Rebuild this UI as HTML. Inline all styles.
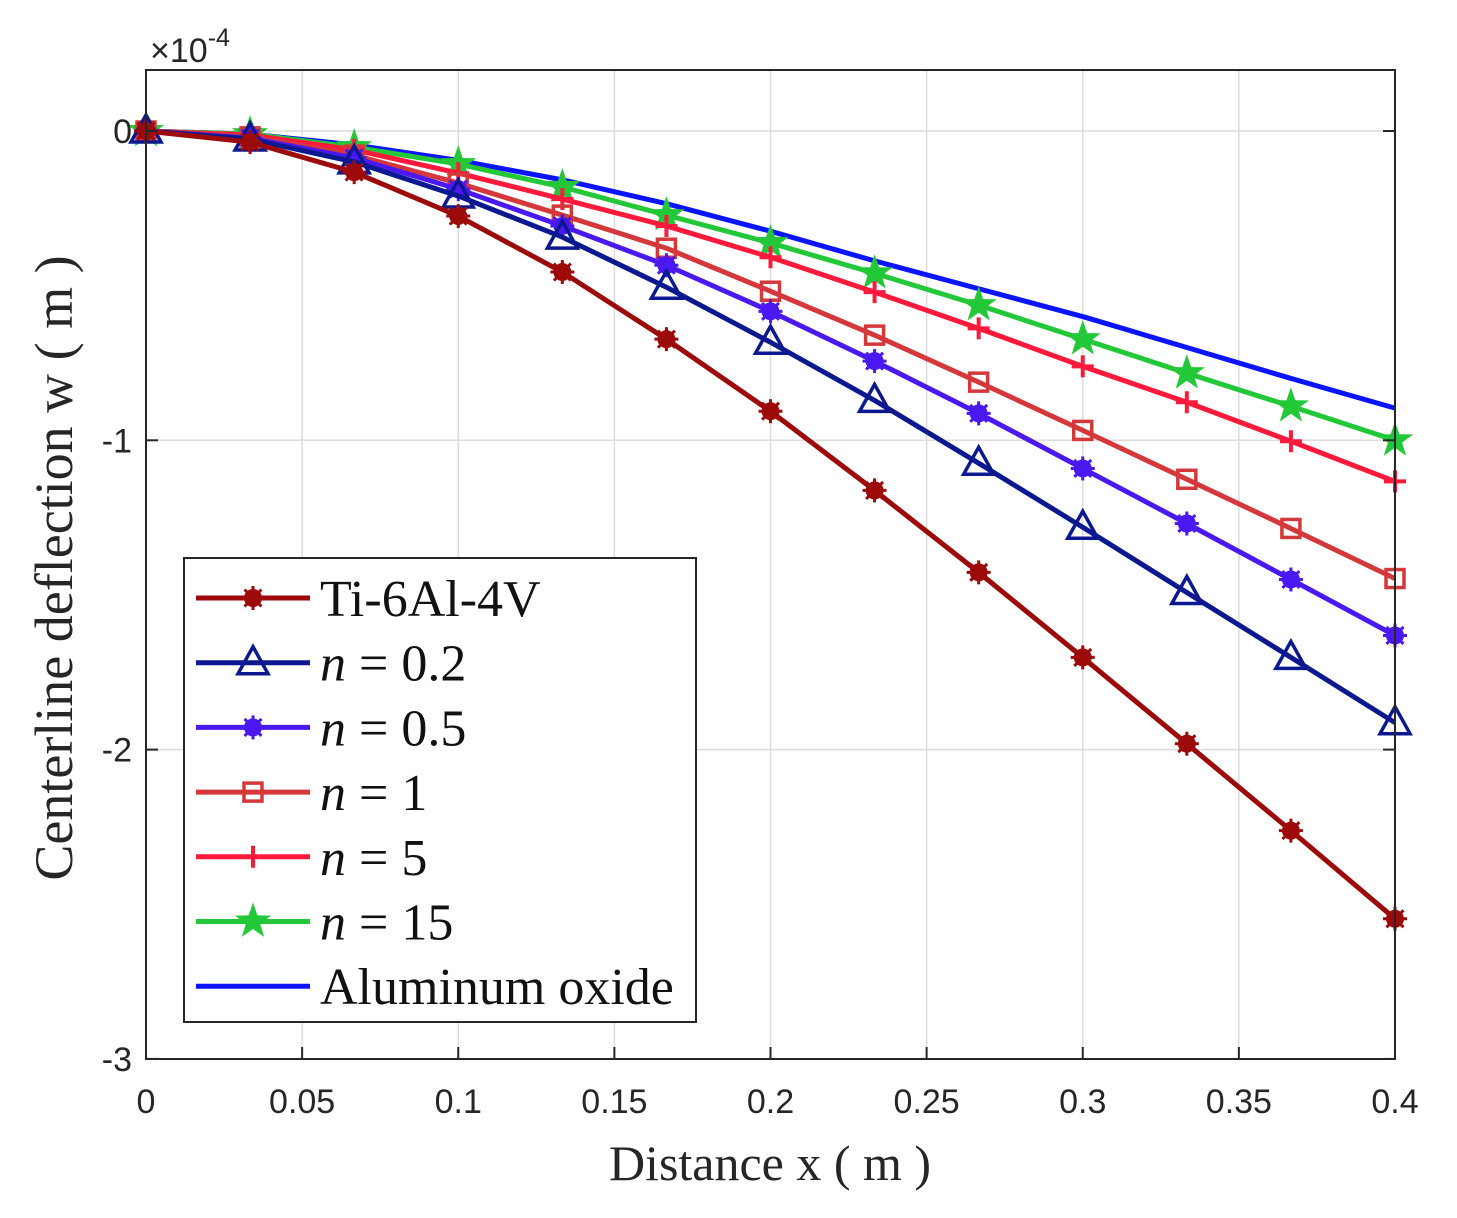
<!DOCTYPE html>
<html><head><meta charset="utf-8"><style>
body{margin:0;background:#fff}
svg text{font-family:"Liberation Sans",sans-serif}
.serif{font-family:"Liberation Serif",serif}
</style></head><body>
<svg id="chart" width="1457" height="1213" viewBox="0 0 1457 1213" xmlns="http://www.w3.org/2000/svg">
<rect width="1457" height="1213" fill="#fff"/>
<g id="grid"></g>
<g id="series"></g>
<rect x="146" y="70" width="1249" height="989" fill="none" stroke="#262626" stroke-width="2"/>
<g id="ticks"></g>
<text x="150" y="62" font-size="34" fill="#262626">×10<tspan dy="-16" font-size="25">-4</tspan></text>
<text class="serif" x="770" y="1180" font-size="50" text-anchor="middle" fill="#262626">Distance x ( m )</text>
<text class="serif" transform="translate(72,568) rotate(-90)" font-size="54" text-anchor="middle" fill="#262626">Centerline deflection  w ( m )</text>
<g id="legend"></g>
</svg>
<script>
const xVals=[0,1/30,2/30,0.1,4/30,5/30,0.2,7/30,8/30,0.3,10/30,11/30,0.4];
const tiVals=[0,-0.036,-0.133,-0.275,-0.456,-0.673,-0.906,-1.162,-1.427,-1.702,-1.981,-2.262,-2.547];
const n02Vals=[0,-0.026,-0.1,-0.21,-0.343,-0.505,-0.683,-0.871,-1.074,-1.281,-1.492,-1.702,-1.913];
const n05Vals=[0,-0.023,-0.087,-0.188,-0.307,-0.434,-0.583,-0.744,-0.913,-1.091,-1.269,-1.45,-1.631];
const n1Vals=[0,-0.019,-0.078,-0.168,-0.272,-0.379,-0.518,-0.66,-0.812,-0.968,-1.126,-1.285,-1.447];
const n5Vals=[0,-0.013,-0.061,-0.136,-0.22,-0.307,-0.408,-0.521,-0.638,-0.761,-0.877,-1.003,-1.133];
const n15Vals=[0,-0.01,-0.052,-0.107,-0.181,-0.272,-0.362,-0.46,-0.563,-0.673,-0.783,-0.89,-1.0];
const alVals=[0,-0.01,-0.045,-0.095,-0.158,-0.235,-0.324,-0.42,-0.51,-0.6,-0.7,-0.8,-0.896];
const xTicks=[0,0.05,0.1,0.15,0.2,0.25,0.3,0.35,0.4];
const xTickLabels=["0","0.05","0.1","0.15","0.2","0.25","0.3","0.35","0.4"];
const yTicks=[0,-1,-2,-3];
const yTickLabels=["0","-1","-2","-3"];
const seriesNames=["Ti-6Al-4V","n = 0.2","n = 0.5","n = 1","n = 5","n = 15","Aluminum oxide"];

const NS="http://www.w3.org/2000/svg";
const X=v=>146+v/0.4*1249;
const Y=v=>131-v*309.3;
function mk(tag,attrs,parent){const e=document.createElementNS(NS,tag);for(const k in attrs)e.setAttribute(k,attrs[k]);parent.appendChild(e);return e;}
const grid=document.getElementById('grid'),ticks=document.getElementById('ticks');
xTicks.forEach((t,i)=>{
 const g=mk('line',{x1:X(t),x2:X(t),y1:70,y2:1059,stroke:'#dcdcdc','stroke-width':1.5},grid);
 
 const tk=mk('line',{x1:X(t),x2:X(t),y1:1059,y2:1047,stroke:'#262626','stroke-width':2},ticks);
 
 const l=mk('text',{x:X(t),y:1113,'font-size':34,'text-anchor':'middle',fill:'#262626'},ticks);l.textContent=xTickLabels[i];
 
});
yTicks.forEach((t,i)=>{
 const g=mk('line',{x1:146,x2:1395,y1:Y(t),y2:Y(t),stroke:'#dcdcdc','stroke-width':1.5},grid);
 
 const tk=mk('line',{x1:146,x2:158,y1:Y(t),y2:Y(t),stroke:'#262626','stroke-width':2},ticks);
 
 const tk2=mk('line',{x1:1383,x2:1395,y1:Y(t),y2:Y(t),stroke:'#262626','stroke-width':2},ticks);
 
 const l=mk('text',{x:132,y:Y(t)+12,'font-size':34,'text-anchor':'end',fill:'#262626'},ticks);l.textContent=yTickLabels[i];
 
});
function marker(type,cx,cy,color,parent){
 let e;
 if(type==='star8'){
  e=mk('g',{},parent);
  mk('circle',{cx,cy,r:9,fill:color},e);
  for(let a=0;a<4;a++){const an=a*Math.PI/4;mk('line',{x1:cx-12*Math.cos(an),y1:cy-12*Math.sin(an),x2:cx+12*Math.cos(an),y2:cy+12*Math.sin(an),stroke:color,'stroke-width':3},e);}
 }else if(type==='tri'){
  e=mk('polygon',{points:`${cx},${cy-16} ${cx-15},${cy+11} ${cx+15},${cy+11}`,fill:'none',stroke:color,'stroke-width':3.5},parent);
 }else if(type==='sq'){
  e=mk('rect',{x:cx-9,y:cy-9,width:18,height:18,fill:'none',stroke:color,'stroke-width':3.5},parent);
 }else if(type==='plus'){
  e=mk('path',{d:`M${cx-11},${cy}H${cx+11}M${cx},${cy-11}V${cy+11}`,stroke:color,'stroke-width':4},parent);
 }else if(type==='star5'){
  let p=[];for(let k=0;k<10;k++){const r=k%2?7.5:19;const an=-Math.PI/2+k*Math.PI/5;p.push((cx+r*Math.cos(an)).toFixed(1)+','+(cy+r*Math.sin(an)).toFixed(1));}
  e=mk('polygon',{points:p.join(' '),fill:color},parent);
 }
 if(e){}
}
const defs=[
 {vals:alVals,color:'#0a14ff',m:null,name:'series-aluminum-oxide'},
 {vals:n15Vals,color:'#22c838',m:'star5',name:'series-n15'},
 {vals:n5Vals,color:'#ff1a3c',m:'plus',name:'series-n5'},
 {vals:n1Vals,color:'#d4383a',m:'sq',name:'series-n1'},
 {vals:n05Vals,color:'#4a18f0',m:'star8',name:'series-n05'},
 {vals:n02Vals,color:'#0c1890',m:'tri',name:'series-n02'},
 {vals:tiVals,color:'#9c0a0a',m:'star8',name:'series-ti6al4v'}
];
const sg=document.getElementById('series');
defs.forEach(d=>{
 const g=mk('g',{},sg);
 
 const pl=mk('polyline',{points:xVals.map((x,i)=>X(x)+','+Y(d.vals[i])).join(' '),fill:'none',stroke:d.color,'stroke-width':5,'stroke-linejoin':'round'},g);
 
 if(d.m) xVals.forEach((x,i)=>marker(d.m,X(x),Y(d.vals[i]),d.color,g));
});
const lg=document.getElementById('legend');
const lb=mk('rect',{x:184,y:558,width:512,height:464,fill:'#fff',stroke:'#262626','stroke-width':2},lg);

const legOrder=[defs[6],defs[5],defs[4],defs[3],defs[2],defs[1],defs[0]];
legOrder.forEach((d,i)=>{
 const y=598+i*64.7;
 const g=mk('g',{},lg);
 
 mk('line',{x1:196,x2:310,y1:y,y2:y,stroke:d.color,'stroke-width':5},g);
 if(d.m) marker(d.m,253,y,d.color,g);
 const t=mk('text',{x:320,y:y+18,'font-size':52,fill:'#111',class:'serif'},g);
 const nm=seriesNames[i];
 if(nm.startsWith('n = ')){t.innerHTML='<tspan font-style="italic">n</tspan> = '+nm.slice(4);}else t.textContent=nm;
});
</script>
</body></html>
